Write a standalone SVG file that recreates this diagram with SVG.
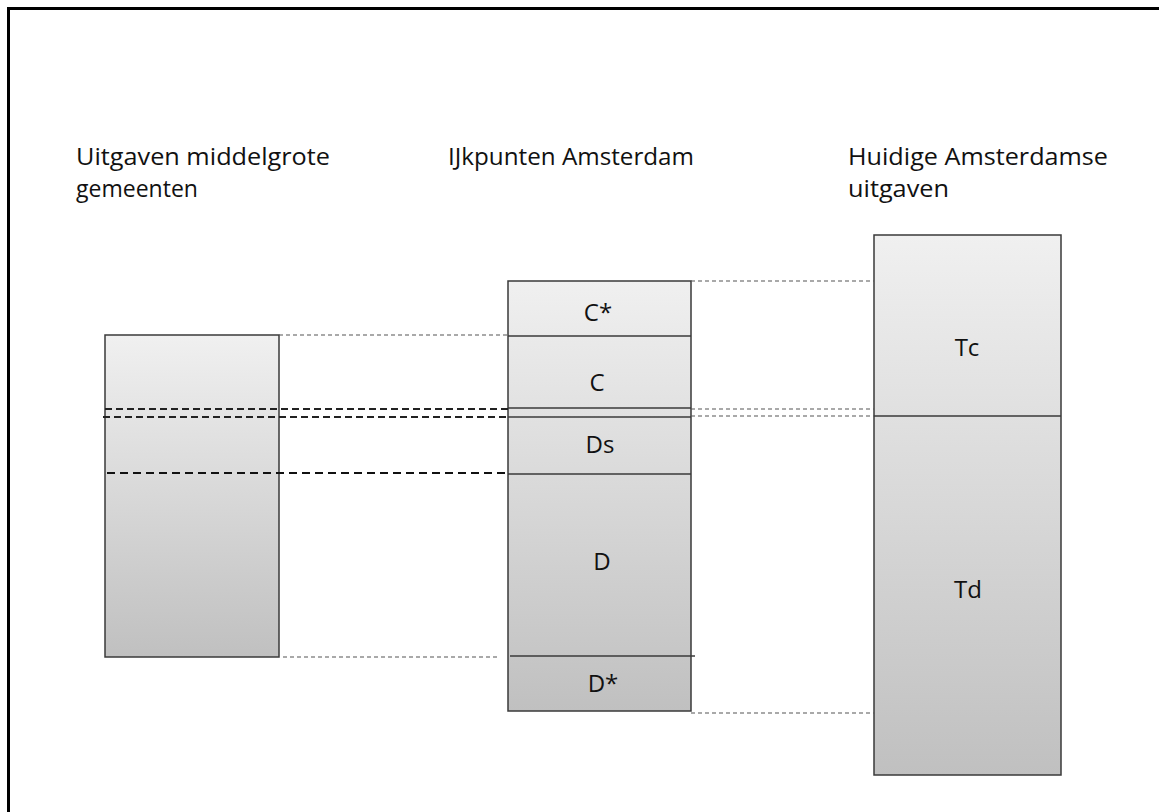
<svg xmlns="http://www.w3.org/2000/svg" width="1159" height="812" viewBox="0 0 1159 812">
<defs>
<linearGradient id="g" x1="0" y1="0" x2="0" y2="1">
<stop offset="0" stop-color="#f0f0f0"/>
<stop offset="1" stop-color="#c0c0c0"/>
</linearGradient>
<style>
.box{fill:url(#g);stroke:#3a3a3a;stroke-width:1.5}
.div{stroke:#3a3a3a;stroke-width:1.5}
.lbl{font-family:"Open Sans","Liberation Sans",sans-serif;font-size:24px;fill:#111}
.ttl{font-family:"Open Sans","Liberation Sans",sans-serif;font-size:24px;fill:#111}
.dg{stroke:#555;stroke-width:1.2;stroke-dasharray:4 3;fill:none}
.db{stroke:#111;stroke-width:2;stroke-dasharray:8 5;fill:none}
.dm{stroke:#222;stroke-width:1.8;stroke-dasharray:7 4;fill:none}
</style>
</defs>
<rect x="8.5" y="8.5" width="1200" height="900" fill="#fff" stroke="#000" stroke-width="3"/>
<g id="titles">
<text class="ttl" x="76" y="165" textLength="254" lengthAdjust="spacingAndGlyphs">Uitgaven middelgrote</text>
<text class="ttl" x="76" y="197" textLength="122" lengthAdjust="spacingAndGlyphs">gemeenten</text>
<text class="ttl" x="448" y="165" textLength="246" lengthAdjust="spacingAndGlyphs">IJkpunten Amsterdam</text>
<text class="ttl" x="848" y="165" textLength="260" lengthAdjust="spacingAndGlyphs">Huidige Amsterdamse</text>
<text class="ttl" x="848" y="197" textLength="101" lengthAdjust="spacingAndGlyphs">uitgaven</text>
</g>
<g id="left-box">
<rect class="box" x="105" y="335" width="174" height="322"/>
</g>
<g id="middle-box">
<rect class="box" x="508" y="281" width="183" height="430"/>
<line class="div" x1="508" y1="336" x2="691" y2="336"/>
<line class="div" x1="508" y1="408" x2="691" y2="408"/>
<line class="div" x1="508" y1="417" x2="691" y2="417"/>
<line class="div" x1="508" y1="474" x2="691" y2="474"/>
<line class="div" x1="510" y1="656" x2="695" y2="656"/>
<text class="lbl" x="598" y="321" text-anchor="middle">C*</text>
<text class="lbl" x="597" y="391" text-anchor="middle">C</text>
<text class="lbl" x="600" y="453" text-anchor="middle">Ds</text>
<text class="lbl" x="602" y="570" text-anchor="middle">D</text>
<text class="lbl" x="603" y="692" text-anchor="middle">D*</text>
</g>
<g id="right-box">
<rect class="box" x="874" y="235" width="187" height="540"/>
<line class="div" x1="874" y1="416" x2="1061" y2="416"/>
<text class="lbl" x="967" y="356" text-anchor="middle">Tc</text>
<text class="lbl" x="968" y="598" text-anchor="middle">Td</text>
</g>
<g id="connectors">
<line class="dg" x1="279" y1="335" x2="508" y2="335"/>
<line class="dm" x1="105" y1="409" x2="508" y2="409"/>
<line class="dm" x1="103" y1="417" x2="508" y2="417"/>
<line class="db" x1="107" y1="473" x2="508" y2="473"/>
<line class="dg" x1="283" y1="657" x2="500" y2="657"/>
<line class="dg" x1="691" y1="281" x2="874" y2="281"/>
<line class="dg" x1="691" y1="409" x2="874" y2="409"/>
<line class="dg" x1="691" y1="416" x2="874" y2="416"/>
<line class="dg" x1="691" y1="713" x2="874" y2="713"/>
</g>
</svg>
